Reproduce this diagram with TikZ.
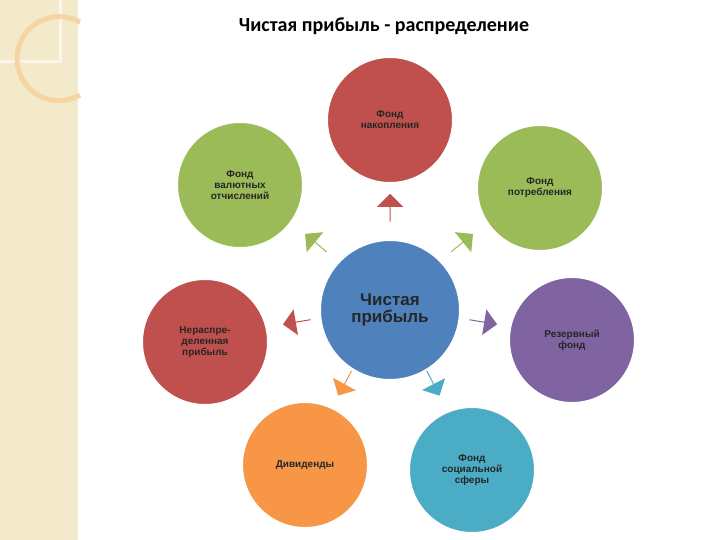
\documentclass[tikz,border=0pt]{standalone}
\usepackage{fontspec}
\setmainfont{Liberation Sans}
\newfontfamily\titlefont{Carlito}
\usetikzlibrary{shapes.arrows,calc}
\definecolor{cred}{HTML}{C0504D}
\definecolor{cgreen}{HTML}{9BBB59}
\definecolor{cpurple}{HTML}{8064A2}
\definecolor{corange}{HTML}{F79646}
\definecolor{cteal}{HTML}{4BACC6}
\definecolor{cblue}{HTML}{4F81BD}
\definecolor{beige}{HTML}{F3EACB}
\tikzset{
  circ/.style={circle,draw=white,line width=2pt,minimum size=126pt,inner sep=0pt,align=center,
    font=\fontsize{10}{11}\selectfont\bfseries,text=black!85},
  arr/.style={single arrow,minimum height=28pt,minimum width=26pt,single arrow head extend=5pt,inner sep=0pt,draw=none}
}
\begin{document}
\begin{tikzpicture}[x=1pt,y=-1pt]
\useasboundingbox (0,0) rectangle (720,540);
\fill[white] (0,0) rectangle (720,540);
\fill[beige] (0,0) rectangle (78,540);
\draw[white!60!beige,line width=3pt] (0,62) -- (60,62) -- (60,0);
\draw[beige!80!orange,line width=5pt] (80,95) arc[start angle=60,end angle=300,radius=42];
\node[font=\titlefont\fontsize{20}{24}\selectfont\bfseries] (title) at (384,26) {Чистая прибыль - распределение};
\node[circ,fill=cblue,minimum size=140pt,font=\fontsize{17}{17}\selectfont\bfseries,text=black!85] (c) at (390,310) {Чистая\\прибыль};
\node[circ,fill=cred] (t) at (390,120) {Фонд\\накопления};
\node[circ,fill=cgreen] (tl) at (240,185) {Фонд\\валютных\\отчислений};
\node[circ,fill=cgreen] (tr) at (540,188) {Фонд\\потребления};
\node[circ,fill=cred] (l) at (205,342) {Нераспре-\\деленная\\прибыль};
\node[circ,fill=cpurple] (r) at (572,340) {Резервный\\фонд};
\node[circ,fill=corange] (bl) at (305,465) {Дивиденды};
\node[circ,fill=cteal] (br) at (472,470) {Фонд\\социальной\\сферы};
\foreach \nm/\col/\px/\py in {t/cred/390/208, tl/cgreen/316/243, tr/cgreen/462/243, l/cred/297/322, r/cpurple/483/322, bl/corange/345/383, br/cteal/433/383}{
  \path let \p1=($(\nm)-(c)$), \n1={atan2(\y1,\x1)} in
    node[arr,fill=\col,rotate=\n1] (a\nm) at (\px,\py) {};
}
\end{tikzpicture}
\end{document}
